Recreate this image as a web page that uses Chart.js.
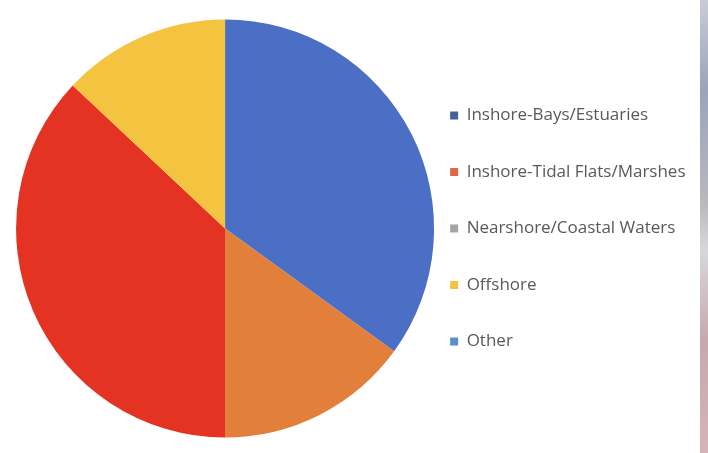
<!DOCTYPE html>
<html>
<head>
<meta charset="utf-8">
<script src="https://cdn.jsdelivr.net/npm/chart.js@4/dist/chart.umd.min.js"></script>
<style>
  html, body { margin: 0; padding: 0; background: #ffffff; }
  #wrap { position: relative; width: 708px; height: 453px; }
  #strip { position: absolute; right: 0; top: 0; width: 8px; height: 453px;
    background: linear-gradient(180deg, #c9ccd6 0%, #9aa3bb 20%, #b9b9bd 45%, #d8d8dc 55%, #c7a9ad 75%, #d6b3b6 100%); }
</style>
</head>
<body>
<div id="wrap">
  <canvas id="c"></canvas>
  <div id="strip"></div>
</div>
<script>
const categories = ["Inshore-Bays/Estuaries", "Inshore-Tidal Flats/Marshes", "Nearshore/Coastal Waters", "Offshore", "Other"];
const shares = [35, 15, 37, 13, 0];
const sliceColors = ["#4A6FC4", "#E27F3A", "#E53323", "#F4C33F", "#5B9BD5"];
const legendColors = ["#44619E", "#E0674A", "#A5A5A5", "#F2C33C", "#5B8FC9"];

const ctx = document.getElementById('c');
new Chart(ctx, {
  type: 'pie',
  data: {
    labels: categories,
    datasets: [{
      data: shares,
      backgroundColor: sliceColors,
      borderWidth: 0,
      radius: 209,
      clip: false
    }]
  },
  options: {
    responsive: true,
    maintainAspectRatio: false,
    animation: false,
    layout: { padding: { left: 39.5, right: 12.5, top: 20, bottom: 16 } },
    plugins: {
      tooltip: { enabled: false },
      legend: {
        position: 'right',
        align: 'center',
        labels: {
          boxWidth: 8,
          boxHeight: 8,
          padding: 39.5,
          color: '#595959',
          font: { family: "'Open Sans'", size: 17 },
          generateLabels: function(chart) {
            const items = Chart.overrides.pie.plugins.legend.labels.generateLabels(chart);
            return items.map((it, i) => Object.assign(it, {
              fillStyle: legendColors[i],
              strokeStyle: legendColors[i],
              lineWidth: 0,
              hidden: false
            }));
          }
        }
      }
    }
  }
});
</script>
</body>
</html>
